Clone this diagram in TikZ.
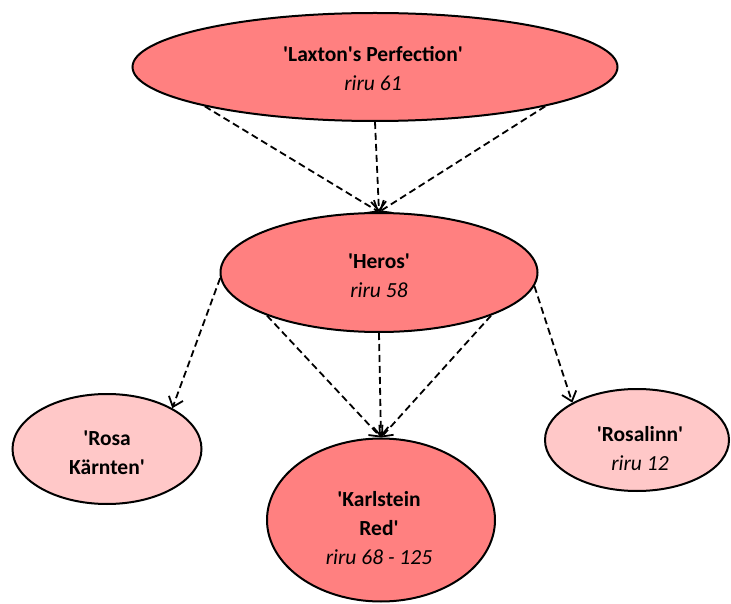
\documentclass[tikz,border=0pt]{standalone}
\usepackage{fontspec}
\setmainfont{Carlito}
\usetikzlibrary{shapes.geometric,arrows.meta}
\definecolor{salmon}{RGB}{255,128,128}
\definecolor{lightpink}{RGB}{255,200,200}
\newcommand{\qq}{\textquotesingle}
\tikzset{
  ell/.style={ellipse, draw=black, line width=2pt, inner sep=0pt},
  lbl/.style={align=center, font=\fontsize{21.5pt}{29pt}\selectfont, inner sep=0pt},
  dep/.style={draw=black, line width=1.8pt, dash pattern=on 7pt off 4pt,
    -{Straight Barb[length=9pt,width=15pt,line width=1.8pt]}}
}
\begin{document}
\begin{tikzpicture}[x=1pt,y=-1pt]
\useasboundingbox (0,0) rectangle (731,604);
% ellipses
\node[ell, fill=salmon, minimum width=485pt, minimum height=108pt] (lax) at (375,67) {};
\node[ell, fill=salmon, minimum width=317pt, minimum height=119pt] (heros) at (379,272.5) {};
\node[ell, fill=lightpink, minimum width=189pt, minimum height=110pt] (rosa) at (107,449) {};
\node[ell, fill=lightpink, minimum width=184pt, minimum height=102pt] (rosalinn) at (637,440) {};
\node[ell, fill=salmon, minimum width=228pt, minimum height=163pt] (karl) at (381,520) {};
% labels
\node[lbl] (laxt) at (373,69) {\textbf{\qq Laxton\qq s Perfection\qq}\\\textit{riru 61}};
\node[lbl] (herost) at (379,276) {\textbf{\qq Heros\qq}\\\textit{riru 58}};
\node[lbl] (rosat) at (107,453) {\textbf{\qq Rosa}\\\textbf{Kärnten\qq}};
\node[lbl] (rosalinnt) at (640,449) {\textbf{\qq Rosalinn\qq}\\\textit{riru 12}};
\node[lbl] (karlt) at (379,528) {\textbf{\qq Karlstein}\\\textbf{Red\qq}\\\textit{riru 68 - 125}};
% connectors
\draw[dep] (lax.193) -- (heros.north);
\draw[dep] (lax.south) -- (heros.north);
\draw[dep] (lax.347) -- (heros.north);
\draw[dep] (heros.201) -- (karl.north);
\draw[dep] (heros.south) -- (karl.north);
\draw[dep] (heros.339) -- (karl.north);
\draw[dep] (heros.182) -- (rosa.32);
\draw[dep] (heros.355) -- (rosalinn.150);
\end{tikzpicture}
\end{document}
